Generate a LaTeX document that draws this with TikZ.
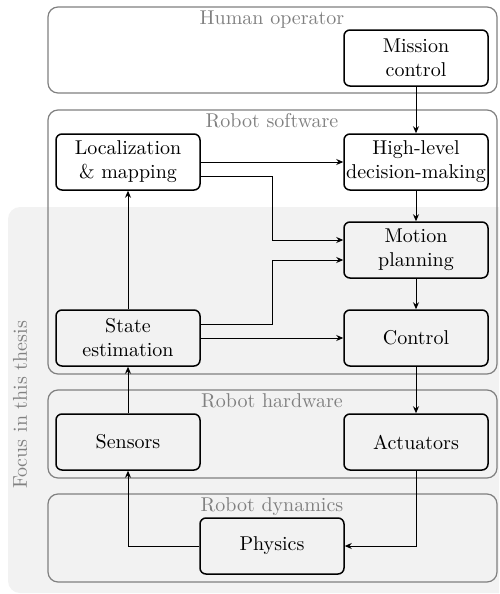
\documentclass[tikz,border=0pt]{standalone}
\usetikzlibrary{arrows.meta}

\begin{document}
\begin{tikzpicture}[x=0.5pt,y=-0.5pt,
  block/.style={draw,line width=0.75pt,rounded corners=3pt,minimum width=72pt,minimum height=28pt,align=center,inner xsep=1pt},
  group/.style={draw=gray,semithick,rounded corners=5pt},
  grouplabel/.style={text=gray,anchor=north,inner sep=1.5pt},
  link/.style={-{Stealth[length=3.5pt,width=3pt]},line width=0.5pt}]
\useasboundingbox (0,0) rectangle (499,594);
\begin{scope}
\clip (0,0) rectangle (499,594);
\fill[black!5,rounded corners=6pt] (8,207) rectangle (530,593);
\end{scope}
\node[rotate=90,text=gray] (focus) at (20,405) {Focus in this thesis};
% groups
\draw[group] (48,7) rectangle (497,93);
\node[grouplabel] (human) at (272,7) {Human operator};
\draw[group] (48,110) rectangle (497,374);
\node[grouplabel] (software) at (272,110) {Robot software};
\draw[group] (48,390) rectangle (497,478);
\node[grouplabel] (hardware) at (272,390) {Robot hardware};
\draw[group] (48,494) rectangle (497,582);
\node[grouplabel] (dynamics) at (272,494) {Robot dynamics};
% blocks
\node[block] (mission) at (416,58) {Mission\\control};
\node[block] (loc) at (128,162) {Localization\\\& mapping};
\node[block] (decision) at (416,162) {High-level\\decision-making};
\node[block] (planning) at (416,250) {Motion\\planning};
\node[block] (state) at (128,338) {State\\estimation};
\node[block] (control) at (416,338) {Control};
\node[block] (sensors) at (128,442) {Sensors};
\node[block] (actuators) at (416,442) {Actuators};
\node[block] (physics) at (272,546) {Physics};
% links
\draw[link] (mission) -- (decision);
\draw[link] (loc) -- (decision);
\draw[link] ([yshift=-7pt]loc.east) -- ++(72,0) |- ([yshift=5pt]planning.west);
\draw[link] ([yshift=7pt]state.east) -- ++(72,0) |- ([yshift=-5pt]planning.west);
\draw[link] (decision) -- (planning);
\draw[link] (planning) -- (control);
\draw[link] (state) -- (control);
\draw[link] (state) -- (loc);
\draw[link] (sensors) -- (state);
\draw[link] (control) -- (actuators);
\draw[link] (actuators) |- (physics);
\draw[link] (physics) -| (sensors);
\end{tikzpicture}
\end{document}
